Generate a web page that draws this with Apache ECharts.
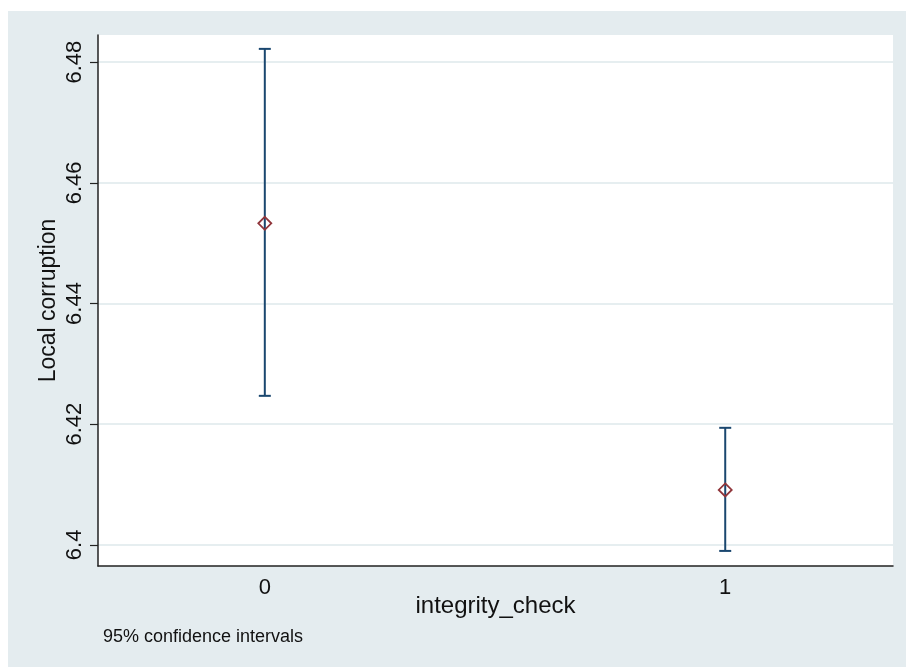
<!DOCTYPE html>
<html>
<head>
<meta charset="utf-8">
<script src="https://cdn.jsdelivr.net/npm/echarts@6/dist/echarts.min.js"></script>
<style>
html,body{margin:0;padding:0;background:#fff;}
#c{width:906px;height:667px;}
</style>
</head>
<body>
<div id="c"></div>
<script>
// Data
const groups = [0, 1];
const means = [6.4533, 6.4091];
const lower = [6.4247, 6.3990];
const upper = [6.4822, 6.4194];
const yTicks = [6.40, 6.42, 6.44, 6.46, 6.48];
const xTicks = [0, 1];

const chart = echarts.init(document.getElementById('c'), null, {renderer: 'canvas'});
const FONT = 'Liberation Sans, Arial, sans-serif';

const ciData = groups.map((g, i) => [g, lower[i], upper[i]]);
const ptData = groups.map((g, i) => [g, means[i]]);

chart.setOption({
  animation: false,
  backgroundColor: '#fff',
  graphic: [
    {type: 'rect', z: -10, shape: {x: 8, y: 11, width: 898, height: 656}, style: {fill: '#e4ecef'}},
    {type: 'text', left: 103, top: 628, style: {text: '95% confidence intervals', font: '18px ' + FONT, fill: '#111'}}
  ],
  grid: {left: 98, right: 13, top: 35, bottom: 101, show: true, backgroundColor: '#fff', borderWidth: 0},
  xAxis: {
    type: 'value', min: -0.3623, max: 1.3644,
    name: 'integrity_check', nameLocation: 'middle', nameGap: 28, nameMoveOverlap: false,
    nameTextStyle: {fontFamily: FONT, fontSize: 24, color: '#111'},
    axisLine: {show: true, onZero: false, lineStyle: {color: '#222', width: 1.5}},
    axisTick: {show: false},
    splitLine: {show: false},
    axisLabel: {customValues: xTicks, fontFamily: FONT, fontSize: 22, color: '#111', margin: 11,
      formatter: v => String(v)}
  },
  yAxis: {
    type: 'value', min: 6.3965, max: 6.4845,
    name: 'Local corruption', nameLocation: 'middle', nameGap: 38, nameMoveOverlap: false,
    nameTextStyle: {fontFamily: FONT, fontSize: 23, color: '#111'},
    axisLine: {show: true, onZero: false, lineStyle: {color: '#222', width: 1.5}},
    axisTick: {show: true, customValues: yTicks, length: 8, lineStyle: {color: '#222', width: 1.2}},
    splitLine: {show: false},
    axisLabel: {customValues: yTicks, rotate: 90, fontFamily: FONT, fontSize: 22, color: '#111', margin: 12,
      formatter: v => String(+v.toFixed(2))}
  },
  series: [
    {
      type: 'line', data: [], silent: true, z: 0,
      markLine: {
        silent: true, symbol: 'none', label: {show: false}, z: 0,
        lineStyle: {color: '#e6eef0', width: 2, type: 'solid'},
        data: yTicks.map(t => ({yAxis: t}))
      }
    },
    {
      type: 'custom', z: 5,
      data: ciData,
      renderItem: function (params, api) {
        const x = api.value(0);
        const lo = api.coord([x, api.value(1)]);
        const hi = api.coord([x, api.value(2)]);
        const cap = 6;
        const st = {stroke: '#1a476f', lineWidth: 2};
        return {
          type: 'group',
          children: [
            {type: 'line', shape: {x1: lo[0], y1: lo[1], x2: hi[0], y2: hi[1]}, style: st},
            {type: 'line', shape: {x1: lo[0] - cap, y1: lo[1], x2: lo[0] + cap, y2: lo[1]}, style: st},
            {type: 'line', shape: {x1: hi[0] - cap, y1: hi[1], x2: hi[0] + cap, y2: hi[1]}, style: st}
          ]
        };
      }
    },
    {
      type: 'scatter', z: 6,
      data: ptData,
      symbol: 'diamond', symbolSize: 13,
      itemStyle: {color: 'rgba(0,0,0,0)', borderColor: '#90353b', borderWidth: 1.8, opacity: 1}
    }
  ]
});
</script>
</body>
</html>
